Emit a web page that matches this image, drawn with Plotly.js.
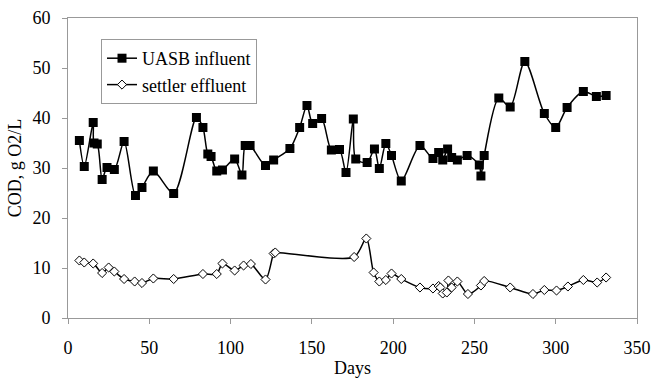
<!DOCTYPE html>
<html>
<head>
<meta charset="utf-8">
<script src="https://cdn.plot.ly/plotly-3.0.1.min.js"></script>
<style>html,body{margin:0;padding:0;background:#fff;}#chart{width:655px;height:379px;}</style>
</head>
<body>
<div id="chart"></div>
<script>
const uasbDays = [7,10,15.5,16,18,21,24,28.5,34.5,41.5,45.5,52.5,65,79,83,86,88,91.5,95,102.5,107,109,112,121.5,126.5,136.5,142.5,147,150.5,156,162,167,171,175.5,177,184,188.5,191.5,195.5,199,205,216.5,224.5,228,230.5,233.5,236,239.5,245.5,253,254,256,265,272,281,293,300,307,317,325,331];
const uasbCOD = [35.5,30.3,39.1,35,34.8,27.7,30.1,29.7,35.3,24.5,26.1,29.4,24.9,40.1,38.1,32.8,32.3,29.4,29.6,31.8,28.6,34.5,34.5,30.5,31.6,33.9,38.1,42.5,38.9,39.9,33.6,33.7,29.1,39.8,31.8,31.1,33.8,29.9,34.9,32.5,27.4,34.5,31.9,33.1,31.6,33.8,32.1,31.6,32.5,30.6,28.4,32.5,44,42.2,51.3,40.9,38.1,42.1,45.3,44.3,44.5];

const settlerDays = [7,10,15.5,21,25,28.5,34.5,41,45.5,52.5,65,83,91.5,95,102.5,108,112.5,121.5,126.5,127.5,176,183.5,188,191.5,195.5,199,205,216.5,224.5,228,229,230.5,233,234,236,239.5,246,254,256,272,286,293,300.5,307.5,317,325.5,331];
const settlerCOD = [11.5,11.1,10.9,9,10.1,9.3,7.8,7.3,7,7.9,7.8,8.8,8.8,10.9,9.5,10.5,10.8,7.7,12.9,13.1,12.2,15.9,9.1,7.3,7.6,8.9,7.8,6.1,5.9,6.4,6.1,4.9,5.1,7.5,6.1,7.3,4.8,6.5,7.4,6.1,4.8,5.6,5.5,6.3,7.6,7.1,8.1];

const seriesNames = ['UASB influent', 'settler effluent'];
const xTicks = [0,50,100,150,200,250,300,350];
const yTicks = [0,10,20,30,40,50,60];

const font = "'Liberation Serif'";

const traces = [
  {x: uasbDays, y: uasbCOD, name: seriesNames[0], type: 'scatter', mode: 'lines+markers',
   line: {color: '#000', width: 1.5, shape: 'spline', smoothing: 0.8},
   marker: {symbol: 'square', size: 9, color: '#000'}},
  {x: settlerDays, y: settlerCOD, name: seriesNames[1], type: 'scatter', mode: 'lines+markers',
   line: {color: '#000', width: 1.5, shape: 'spline', smoothing: 0.8},
   marker: {symbol: 'diamond', size: 7, color: '#fff', line: {color: '#000', width: 1}}}
];

const layout = {
  width: 655, height: 379,
  margin: {l: 68, r: 18, t: 18, b: 61},
  paper_bgcolor: '#fff', plot_bgcolor: '#fff',
  font: {family: font, size: 18, color: '#000'},
  showlegend: true,
  legend: {x: 0.058, y: 0.93, xanchor: 'left', yanchor: 'top', bgcolor: '#fff',
           bordercolor: '#999', borderwidth: 1, font: {family: font, size: 18, color: '#000'},
           tracegroupgap: 0, itemwidth: 30},
  xaxis: {range: [0, 350], tickvals: xTicks, ticks: 'outside', ticklen: 5, tickcolor: '#999',
          showgrid: false, zeroline: false, showline: true, linecolor: '#999', linewidth: 1, mirror: true,
          ticklabelstandoff: 8,
          title: {text: 'Days', font: {family: font, size: 18, color: '#000'}, standoff: 4},
          tickfont: {family: font, size: 18, color: '#000'}},
  yaxis: {range: [0, 60], tickvals: yTicks, ticks: 'outside', ticklen: 5, tickcolor: '#999',
          showgrid: false, zeroline: false, showline: true, linecolor: '#999', linewidth: 1, mirror: true,
          ticklabelstandoff: 8,
          title: {text: 'COD, g O2/L', font: {family: font, size: 18, color: '#000'}, standoff: 6},
          tickfont: {family: font, size: 18, color: '#000'}}
};

Plotly.newPlot('chart', traces, layout, {displayModeBar: false, staticPlot: true});
</script>
</body>
</html>
